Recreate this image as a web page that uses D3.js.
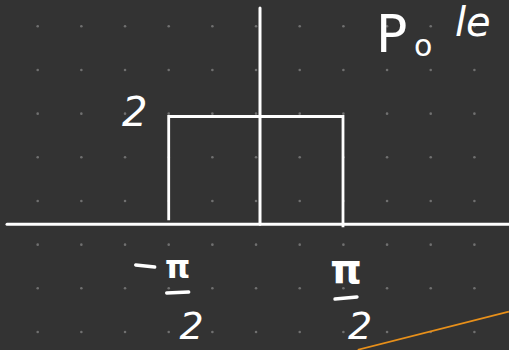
<!DOCTYPE html>
<html>
<head>
<meta charset="utf-8">
<script src="https://cdn.jsdelivr.net/npm/d3@7/dist/d3.min.js"></script>
<style>
  html, body { margin: 0; padding: 0; background: #333333; }
  svg { display: block; }
  text { font-family: "DejaVu Sans", sans-serif; fill: #ffffff; }
</style>
</head>
<body>
<svg id="chart" width="509" height="350"></svg>
<script>
// Rectangular pulse: height 2 between -π/2 and π/2
const pulseX = [-Math.PI / 2, -Math.PI / 2, Math.PI / 2, Math.PI / 2];
const pulseY = [0, 2, 2, 0];

// Tick marks on the horizontal axis
const tickValues = [-Math.PI / 2, Math.PI / 2];
const tickSigns = ["−", ""];
const levelValue = 2;
const levelLabel = "2";

// Part of a second curve (orange) entering from the lower right
const curveX = [1.85, 4.71];
const curveY = [-2.33, -1.62];

const titleMain = "P";
const titleSub = "o";
const titleRest = "le";

const W = 509, H = 350;
const svg = d3.select("#chart");

svg.append("rect").attr("width", W).attr("height", H).attr("fill", "#333333");

// dotted paper grid
const gap = 43.67;
const dots = [];
for (let gx = 37.7; gx < W; gx += gap) {
  for (let gy = 26.3; gy < H; gy += gap) dots.push([gx, gy]);
}
svg.append("g").selectAll("circle").data(dots).join("circle")
  .attr("cx", d => d[0]).attr("cy", d => d[1]).attr("r", 1.3)
  .attr("fill", "#707070");

const x = d3.scaleLinear()
  .domain([-Math.PI / 2, 0, Math.PI / 2])
  .range([168.7, 260, 343]);
const y = d3.scaleLinear().domain([0, 2]).range([224.3, 116.5]);

const ink = "#ffffff";

// axes
svg.append("line")
  .attr("x1", 7).attr("x2", W + 5)
  .attr("y1", y(0)).attr("y2", y(0))
  .attr("stroke", ink).attr("stroke-width", 3).attr("stroke-linecap", "round");
svg.append("line")
  .attr("x1", x(0)).attr("x2", x(0))
  .attr("y1", 8).attr("y2", y(0))
  .attr("stroke", ink).attr("stroke-width", 3).attr("stroke-linecap", "round");

// pulse outline
const pts = pulseX.map((v, i) => [x(v), y(pulseY[i])]);
pts[0][1] -= 4;   // left edge stops just short of the axis
pts[3][1] += 3;   // right edge runs slightly past it
svg.append("path")
  .attr("d", d3.line()(pts))
  .attr("fill", "none").attr("stroke", ink).attr("stroke-width", 2.8)
  .attr("stroke-linejoin", "miter");

// orange curve
svg.append("path")
  .attr("d", d3.line().x((d, i) => x(d)).y((d, i) => y(curveY[i]))(curveX))
  .attr("fill", "none").attr("stroke", "#e8901a").attr("stroke-width", 1.6);

// level label "2"
svg.append("text")
  .attr("x", x(-Math.PI / 2) - 34).attr("y", y(levelValue) + 9)
  .attr("font-size", 40).attr("font-style", "italic")
  .attr("text-anchor", "middle").text(levelLabel);

// ±π/2 tick labels
tickValues.forEach((v, i) => {
  const cx = x(v) + (i === 0 ? 9 : 3);
  const g = svg.append("g");
  if (tickSigns[i]) {
    g.append("line")
      .attr("x1", cx - 42).attr("x2", cx - 23)
      .attr("y1", 265).attr("y2", 267)
      .attr("stroke", ink).attr("stroke-width", 3.4).attr("stroke-linecap", "round");
  }
  g.append("text").attr("x", cx).attr("y", i === 0 ? 278 : 283)
    .attr("font-size", i === 0 ? 32 : 40).attr("font-weight", "bold")
    .attr("text-anchor", "middle").text("π");
  g.append("line")
    .attr("x1", cx - 11).attr("x2", cx + 11)
    .attr("y1", i === 0 ? 293 : 299).attr("y2", i === 0 ? 292 : 297)
    .attr("stroke", ink).attr("stroke-width", 3.4).attr("stroke-linecap", "round");
  g.append("text").attr("x", cx + 14).attr("y", 339)
    .attr("font-size", 38).attr("font-style", "italic")
    .attr("text-anchor", "middle").text("2");
});

// heading in the corner
svg.append("text").attr("x", 376).attr("y", 52)
  .attr("font-size", 52).text(titleMain);
svg.append("text").attr("x", 414).attr("y", 56)
  .attr("font-size", 30).text(titleSub);
svg.append("text").attr("x", 455).attr("y", 36)
  .attr("font-size", 40).attr("font-style", "italic").text(titleRest);
</script>
</body>
</html>
